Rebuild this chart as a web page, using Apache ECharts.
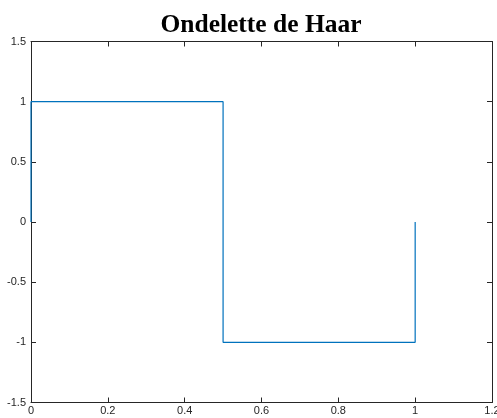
<!DOCTYPE html>
<html>
<head>
<meta charset="utf-8">
<script src="https://cdn.jsdelivr.net/npm/echarts@6/dist/echarts.min.js"></script>
<style>html,body{margin:0;padding:0;background:#fff}#c{width:497px;height:418px}</style>
</head>
<body>
<div id="c"></div>
<script>
var titleText = "Ondelette de Haar";
var xs = [0, 0, 0.5, 0.5, 1, 1];
var ys = [0, 1, 1, -1, -1, 0];
var xMin = 0, xMax = 1.2, xStep = 0.2;
var yMin = -1.5, yMax = 1.5, yStep = 0.5;

var pts = xs.map(function (x, i) { return [x, ys[i]]; });
var axCol = '#262626';
var lab = { color: axCol, fontFamily: 'Liberation Sans, Arial, sans-serif', fontSize: 11 };
function xa(pos, showLabel) {
  return {
    type: 'value', position: pos, min: xMin, max: xMax, interval: xStep,
    axisLine: { show: true, onZero: false, lineStyle: { color: axCol, width: 1 } },
    axisTick: { show: true, inside: true, length: 5, lineStyle: { color: axCol } },
    axisLabel: Object.assign({ show: showLabel, margin: 3, hideOverlap: false }, lab),
    splitLine: { show: false }
  };
}
function ya(pos, showLabel) {
  return {
    type: 'value', position: pos, min: yMin, max: yMax, interval: yStep,
    axisLine: { show: true, onZero: false, lineStyle: { color: axCol, width: 1 } },
    axisTick: { show: true, inside: true, length: 5, lineStyle: { color: axCol } },
    axisLabel: Object.assign({ show: showLabel, margin: 5 }, lab),
    splitLine: { show: false }
  };
}
var chart = echarts.init(document.getElementById('c'), null, { renderer: 'canvas' });
chart.setOption({
  animation: false,
  backgroundColor: '#ffffff',
  title: {
    text: titleText, left: 256, textAlign: 'center', top: 7,
    textStyle: { fontFamily: 'Liberation Serif, Times New Roman, serif', fontWeight: 'bold', fontSize: 25.5, color: '#000' }
  },
  grid: { left: 31, right: 5, top: 41.5, bottom: 15.5, containLabel: false, outerBoundsMode: 'none' },
  xAxis: [xa('bottom', true), xa('top', false)],
  yAxis: [ya('left', true), ya('right', false)],
  series: [{
    type: 'line', data: pts, xAxisIndex: 0, yAxisIndex: 0,
    showSymbol: false, symbol: 'none',
    lineStyle: { color: '#0072BD', width: 1.2 }
  }]
});
</script>
</body>
</html>
